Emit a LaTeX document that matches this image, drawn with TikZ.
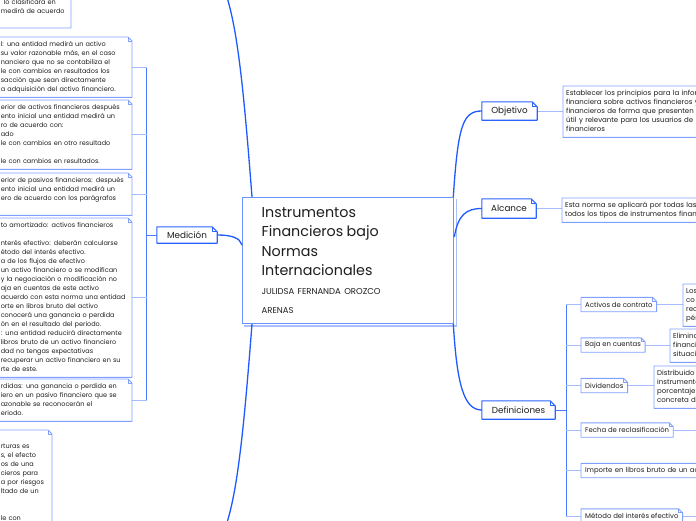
\documentclass[tikz,border=0pt]{standalone}
\usepackage{fontspec}
\setmainfont{Poppins}
\definecolor{mainblue}{HTML}{1F5AFF}
\definecolor{cenblue}{HTML}{6B93FF}
\definecolor{shadblue}{HTML}{A9BFFF}
\definecolor{lvoneblue}{HTML}{2B63FF}
\definecolor{leafblue}{HTML}{7FA0FF}
\definecolor{brkblue}{HTML}{4D7BFF}
\definecolor{twigblue}{HTML}{A6BCFF}
\definecolor{ink}{HTML}{1E1E1E}
\newcommand\dogear[3]{%
  \draw[#2,line join=round] (#1.south west) -- (#1.north west) -- ([xshift=-#3]#1.north east) -- ([yshift=-#3]#1.north east) -- (#1.south east) -- cycle;
  \draw[#2,line join=round] ([xshift=-#3]#1.north east) -- ([xshift=-#3,yshift=-#3]#1.north east) -- ([yshift=-#3]#1.north east);}
\newcommand\nohyph{\hyphenpenalty=10000\relax\exhyphenpenalty=10000\relax}
\begin{document}
\begin{tikzpicture}[x=1pt,y=-1pt,
  main/.style={draw=mainblue,line width=1.3pt},
  central/.style={fill=white,draw=cenblue,line width=1.3pt,align=left,text width=173pt,inner xsep=19pt,inner ysep=10pt,text=ink},
  shadowc/.style={draw=shadblue,line width=1.3pt},
  lvone/.style={fill=white,font=\fontsize{8.8}{10}\selectfont,inner sep=0pt,text=ink},
  lvtwo/.style={fill=white,font=\fontsize{6.9}{8}\selectfont,inner xsep=4pt,inner ysep=0pt,minimum height=14pt,anchor=west,text=ink},
  leaf/.style={fill=white,font=\fontsize{7}{9}\selectfont\nohyph,align=left,inner xsep=3pt,inner ysep=3pt,text=ink},
  lleaf/.style={leaf,font=\fontsize{6.5}{9}\selectfont\nohyph},
  oneline/.style={draw=lvoneblue,line width=1.1pt},
  leafline/.style={draw=leafblue,line width=0.9pt},
  brk/.style={draw=brkblue,line width=1pt},
  twig/.style={draw=twigblue,line width=1pt}]
\useasboundingbox (0,0) rectangle (696,520);
\clip (0,0) rectangle (696,520);

% central node
\node[central,anchor=north west] (c) at (242,197) {%
  {\fontsize{14.3}{19.2}\selectfont Instrumentos\\Financieros bajo\\Normas\\Internacionales\par}%
  {\fontsize{8.5}{19}\selectfont JULIDSA FERNANDA OROZCO\\ARENAS\par}};
\draw[shadowc] ([shift={(2pt,-2pt)}]c.north east) -- ([shift={(2pt,-2pt)}]c.south east) -- ([shift={(2pt,-2pt)}]c.south west);

% first level
\node[lvone,minimum width=55pt,minimum height=18pt] (obj) at (509.5,111) {Objetivo};
\node[lvone,minimum width=54pt,minimum height=19pt] (alc) at (509,208.5) {Alcance};
\node[lvone,minimum width=73pt,minimum height=18pt] (def) at (518.5,410) {Definiciones};
\node[lvone,minimum width=60pt,minimum height=16pt] (med) at (187,235) {Medición};
\coordinate (topend) at (220,-20);
\coordinate (botend) at (220,540);

\draw[main] ([xshift=10pt]c.north west) .. controls (243,80) and (236,10) .. (topend);
\draw[main] ([xshift=10pt]c.south west) .. controls (243,440) and (236,510) .. (botend);
\draw[main] ([xshift=-1pt]c.north east) .. controls (458,125) and (463,111) .. (obj.west);
\draw[main] ([yshift=-40pt]c.north east) .. controls (458,215) and (466,208.5) .. (alc.west);
\draw[main] ([xshift=-1pt]c.south east) .. controls (457,385) and (464,410) .. (def.west);
\draw[main] (med.east) .. controls (232,235) and (240,238) .. ([yshift=-48pt]c.north west);

% left leaves (Medición)
\node[lleaf,anchor=south east,text width=67pt] (m1) at (71,28) {\hspace*{3pt}lo clasificará en\\medirá de acuerdo\\\mbox{}\strut};
\node[lleaf,anchor=north east,text width=128pt] (m2) at (132,37) {\strut l: una entidad medirá un activo\\su valor razonable más, en el caso\\nanciero que no se contabiliza el\\le con cambios en resultados los\\sacción que sean directamente\\a adquisición del activo financiero.\strut};
\node[lleaf,anchor=north east,text width=128pt] (m3) at (132,100) {\strut erior de activos financieros después\\ento inicial una entidad medirá un\\ro de acuerdo con:\\ado\\le con cambios en otro resultado\\\mbox{}\\le con cambios en resultados.\strut};
\node[lleaf,anchor=north east,text width=128pt] (m4) at (132,173) {\strut erior de pasivos financieros: después\\ento inicial una entidad medirá un\\ero de acuerdo con los parágrafos\\\mbox{}\strut};
\node[lleaf,anchor=north east,text width=128pt] (m5) at (132,218) {\strut to amortizado: activos financieros\\\mbox{}\\nterés efectivo: deberán calcularse\\étodo del interés efectivo.\\a de los flujos de efectivo\\un activo financiero o se modifican\\y la negociación o modificación no\\aja en cuentas de este activo\\acuerdo con esta norma una entidad\\orte en libros bruto del activo\\conocerá una ganancia o perdida\\ón en el resultado del periodo.\\: una entidad reducirá directamente\\libros bruto de un activo financiero\\dad no tengas expectativas\\recuperar un activo financiero en su\\rte de este.\strut};
\node[lleaf,anchor=north east,text width=128pt] (m6) at (132,379) {\strut rdidas: una ganancia o perdida en\\iero en un pasivo financiero que se\\azonable se reconocerán el\\eriodo.\strut};
\node[lleaf,anchor=north east,text width=48pt] (bl) at (52,430) {\strut\mbox{}\\rturas es\\s, el efecto\\os de una\\cieros para\\a por riesgos\\ltado de un\\\mbox{}\\\mbox{}\\le con\\\mbox{}\strut};

\coordinate (mj) at ([xshift=-10pt]med.west);
\draw[brk] (med.west) -- (mj);
\draw[brk] (mj |- m2.east) -- (mj |- m6.east);
\foreach \n in {m2,m3,m4,m5,m6} \draw[twig] (mj |- \n.east) -- (\n.east);

% right leaves
\node[leaf,anchor=north west,text width=200pt] (objl) at (563,86) {\strut Establecer los principios para la infor\\financiera sobre activos financieros y\\financieros de forma que presenten in\\útil y relevante para los usuarios de lo\\financieros\strut};
\node[leaf,anchor=north west,text width=200pt] (alcl) at (562,198) {\strut Esta norma se aplicará por todas las e\\todos los tipos de instrumentos financ\strut};
\draw[twig] (obj.east) -- (obj.east -| objl.west);
\draw[twig] (alc.east) -- (alc.east -| alcl.west);

% definiciones
\node[lvtwo] (act) at (581,304.5) {Activos de contrato};
\node[lvtwo] (baj) at (581,345) {Baja en cuentas};
\node[lvtwo] (div) at (581,385.5) {Dividendos};
\node[lvtwo] (fec) at (581,430) {Fecha de reclasificación};
\node[lvtwo,text width=190pt,align=left] (imp) at (581,470.5) {Importe en libros bruto de un ac};
\node[lvtwo] (met) at (581,516) {Método del interés efectivo};

\node[leaf,anchor=north west,text width=60pt] (actl) at (683,284) {\strut Los\\co\\rec\\pér\strut};
\node[leaf,anchor=north west,text width=60pt] (bajl) at (670,329) {\strut Elimina\\financi\\situaci\strut};
\node[leaf,anchor=north west,text width=60pt] (divl) at (654,366) {\strut Distribuido\\instrumento\\porcentaje\\concreta de\strut};
\coordinate (fecend) at (700,430);
\coordinate (metend) at (700,516);

\coordinate (dj) at ([xshift=11pt]def.east);
\draw[brk] (def.east) -- (dj);
\draw[brk] (dj |- act.west) -- (dj |- met.west);
\foreach \n in {act,baj,div,fec,imp,met} \draw[twig] (dj |- \n.west) -- (\n.west);
\draw[twig] (act.east) -- (act.east -| actl.west);
\draw[twig] (baj.east) -- (baj.east -| bajl.west);
\draw[twig] (div.east) -- (div.east -| divl.west);
\draw[twig] (fec.east) -- (fecend);
\draw[twig] (met.east) -- (metend);

% outlines with folded corners
\dogear{obj}{oneline}{5pt}
\dogear{alc}{oneline}{5pt}
\dogear{def}{oneline}{5pt}
\dogear{med}{oneline}{5pt}
\foreach \n in {act,baj,div,fec,imp,met,m1,m2,m3,m4,m5,m6,bl,objl,alcl,actl,bajl,divl} {\dogear{\n}{leafline}{4pt}}
\end{tikzpicture}
\end{document}
